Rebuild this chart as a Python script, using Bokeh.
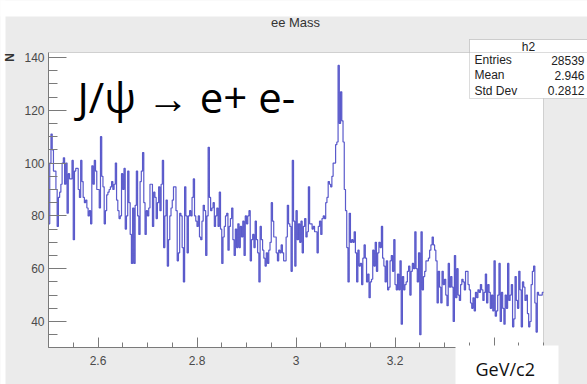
import numpy as np
from bokeh.plotting import figure
from bokeh.models import Label, BoxAnnotation, Range1d, FixedTicker, CustomJSTickFormatter
from bokeh.embed import file_html
from bokeh.resources import INLINE

# ee invariant mass histogram, 400 bins between 2.5 and 3.5 GeV/c2
x_lo, x_hi, n_bins = 2.5, 3.5, 400
y_lo, y_hi = 30.15, 141.9

counts_low = [
    77, 100, 111, 105, 97, 97, 90, 76, 87, 89,
    92, 100, 102, 92, 100, 81, 96, 94, 94, 101,
    71, 97, 98, 98, 90, 87, 101, 93, 87, 85,
    86, 83, 80, 82, 77, 99, 92, 101, 97, 90,
    90, 83, 110, 95, 91, 77, 82, 88, 89, 90,
    91, 93, 90, 92, 100, 86, 82, 79, 80, 96,
    90, 98, 75, 80, 97, 85, 73, 62, 83, 62,
    84, 97, 80, 73, 93, 97, 104, 85, 73, 82,
    80, 83, 92, 92, 76, 89, 87, 79, 85, 91,
    82, 92, 101, 68, 80, 86, 61, 71,
]
counts_mid = [
    80, 83, 86, 91, 91, 82, 63, 66, 81, 80,
    68, 55, 91, 80, 66, 80, 82, 80, 87, 94,
    80, 78, 76, 80, 72, 71, 78, 84, 82, 65,
    80, 106, 87, 82, 83, 85, 76, 80, 83, 76,
    89, 75, 62, 72, 76, 80, 81, 67, 76, 79,
    83, 71, 65, 75, 68, 77, 68, 76, 72, 78,
    65, 80, 77, 80, 82, 63, 71, 73, 68, 78,
    71, 66, 55, 76, 71, 67, 64, 61, 66, 62,
    67, 70, 85, 78, 72, 72, 66, 63, 67, 66,
    69, 66, 63, 63, 72, 84, 77, 76, 59, 101,
    78, 61,
]
counts_peak = [
    82, 71, 77, 70, 78, 66, 76, 79, 72, 74,
    91, 77, 77, 75, 76, 74, 74, 66, 76, 78,
    73, 79, 80, 79, 85, 87, 93, 92, 91, 95,
    100, 100, 107, 108, 137, 115, 127, 116, 108, 90,
    82, 68, 55, 81, 70, 71, 70, 74, 66, 55,
    67, 61, 62, 54, 64, 69, 64, 55, 58, 49,
    55, 56, 67, 61, 70, 59, 66, 70, 68, 76,
    64, 61, 55, 63, 52, 53, 63, 65, 59, 71,
    54, 52, 58, 52, 63, 39, 57, 52, 54, 55,
    59, 61, 50, 59, 62, 60, 74, 60, 55, 66,
    35,
]
counts_high = [
    74, 52, 57, 59, 63, 63, 64, 67, 69, 72,
    69, 67, 63, 47, 59, 53, 47, 59, 54, 56,
    50, 46, 62, 53, 57, 53, 40, 65, 49, 60,
    50, 48, 54, 56, 55, 52, 59, 59, 54, 52,
    47, 45, 49, 44, 51, 49, 52, 51, 54, 52,
    48, 51, 58, 47, 54, 51, 45, 50, 44, 63,
    42, 44, 50, 62, 40, 51, 45, 39, 50, 45,
    62, 48, 50, 54, 38, 41, 57, 48, 45, 59,
    52, 38, 55, 53, 48, 50, 43, 38, 40, 54,
    59, 61, 47, 36, 51, 50, 50, 50, 51,
]
counts = counts_low + counts_mid + counts_peak + counts_high

x_ticks = [2.6, 2.8, 3.0, 3.2, 3.4]
y_ticks = [40, 60, 80, 100, 120, 140]

title_text = "ee Mass"
y_title = "N"
x_unit = "GeV/c2"
decay_text = "J/\u03c8 \u2192 e+ e-"
stats_name = "h2"
stats_keys = ["Entries", "Mean", "Std Dev"]
stats_vals = ["28539", "2.946", "0.2812"]

W, H = 587, 384
FL, FR, FT, FB = 48, 543, 52, 347   # histogram frame edges, canvas pixels


def cx(px):
    return x_lo + (px - FL) * (x_hi - x_lo) / (FR - FL)


def cy(py):
    return y_lo + (FB - py) * (y_hi - y_lo) / (FB - FT)


# the plotting area spans the whole canvas; the axes sit on the histogram frame
p = figure(width=W, height=H, output_backend="svg", toolbar_location=None,
           x_range=Range1d(cx(0), cx(W)), y_range=Range1d(cy(H), cy(0)),
           min_border_left=0, min_border_right=0, min_border_top=0, min_border_bottom=0)
p.background_fill_color = "#ebebeb"
p.border_fill_color = "#ebebeb"
p.outline_line_color = None
p.grid.visible = False

axis_grey = "#7a7a7a"
label_grey = "#4a4a4a"

# page margins and the white histogram frame
p.add_layout(BoxAnnotation(left=cx(-10), right=cx(W + 10), top=cy(-10), bottom=cy(16),
                           fill_color="white", fill_alpha=1, line_alpha=0, level="underlay"))
p.add_layout(BoxAnnotation(left=cx(-10), right=cx(5), top=cy(-10), bottom=cy(H + 10),
                           fill_color="white", fill_alpha=1, line_alpha=0, level="underlay"))
p.add_layout(BoxAnnotation(left=x_lo, right=x_hi, bottom=y_lo, top=y_hi,
                           fill_color="white", fill_alpha=1, line_color=axis_grey,
                           line_width=1, level="underlay"))

p.xaxis.fixed_location = y_lo
p.xaxis.bounds = (x_lo, x_hi)
p.xaxis.ticker = FixedTicker(ticks=x_ticks,
                             minor_ticks=list(np.round(np.arange(x_lo, x_hi + 1e-9, 0.05), 3)))
p.xaxis.formatter = CustomJSTickFormatter(code="return String(Math.round(tick * 10) / 10);")
p.xaxis.major_tick_in = 10
p.xaxis.major_tick_out = 0
p.xaxis.minor_tick_in = 5
p.xaxis.minor_tick_out = 0
p.xaxis.major_label_standoff = 8

p.yaxis.fixed_location = x_lo
p.yaxis.bounds = (y_lo, y_hi)
p.yaxis.ticker = FixedTicker(ticks=y_ticks, minor_ticks=list(range(35, 142, 5)))
p.yaxis.major_tick_in = 18
p.yaxis.major_tick_out = 0
p.yaxis.minor_tick_in = 9
p.yaxis.minor_tick_out = 0
p.yaxis.major_label_standoff = 4

for ax in (p.xaxis, p.yaxis):
    ax.axis_line_color = axis_grey
    ax.major_tick_line_color = axis_grey
    ax.minor_tick_line_color = axis_grey
    ax.major_label_text_font = "Liberation Sans"
    ax.major_label_text_font_size = "12px"
    ax.major_label_text_color = label_grey

# histogram outline
edges = np.linspace(x_lo, x_hi, n_bins + 1)
p.step(x=edges, y=counts + [counts[-1]], mode="after",
       line_color="#5a5acb", line_width=1.2)


def text(px, py, s, size, font="Liberation Sans", align="left", color="#222222",
         angle=0.0, level="annotation", style="normal"):
    p.add_layout(Label(x=cx(px), y=cy(py), text=s, text_align=align,
                       text_baseline="middle", text_font=font,
                       text_font_size=f"{size}px", text_color=color, angle=angle,
                       text_font_style=style, level=level))


# title and axis title
text(295, 22, title_text, 13, align="center", color="#333333")
text(9, 57, y_title, 12, align="center", color="#333333", angle=np.pi / 2, style="bold")

# statistics box
p.add_layout(BoxAnnotation(left=cx(469), right=cx(W + 10), top=cy(39), bottom=cy(98),
                           fill_color="white", fill_alpha=1, line_color="#8a8a8a",
                           line_width=1))
p.add_layout(BoxAnnotation(left=cx(469), right=cx(W + 10), top=cy(39), bottom=cy(52),
                           fill_color="white", fill_alpha=1, line_color="#8a8a8a",
                           line_width=1))
text(528, 46.5, stats_name, 12, align="center")
for i, (k, v) in enumerate(zip(stats_keys, stats_vals)):
    row = 59.5 + i * 15.3
    text(474, row, k, 12)
    text(584, row, v, 12, align="right")

# decay label
text(77, 96, decay_text, 42, font="Open Sans", color="#000000")

# unit box over the end of the x axis
p.add_layout(BoxAnnotation(left=cx(455), right=cx(558), top=cy(345), bottom=cy(H + 10),
                           fill_color="white", fill_alpha=1, line_alpha=0, level="overlay"))
text(475, 368, x_unit, 18, font="Open Sans", color="#111111", level="overlay")

open("out.html", "w").write(file_html(p, INLINE))
